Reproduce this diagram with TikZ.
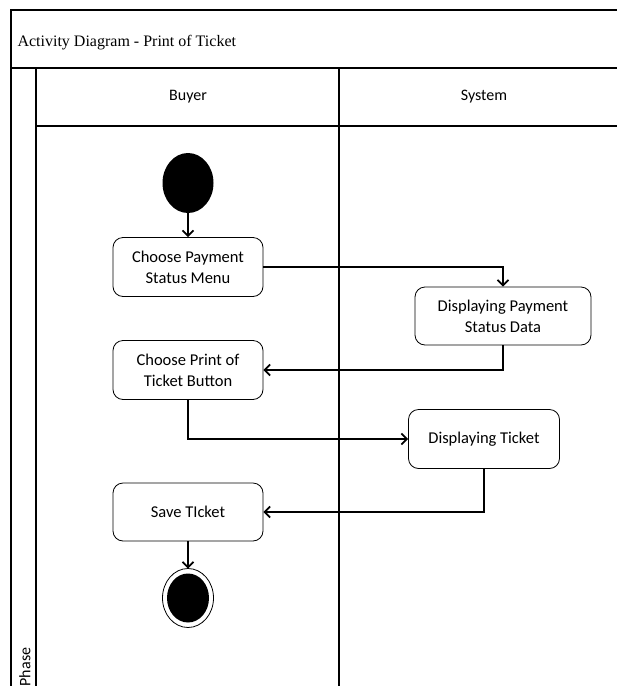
\documentclass[tikz,border=0pt]{standalone}
\usepackage{fontspec}
\setmainfont{Carlito}
\newfontfamily\titlefont{Liberation Serif}
\usetikzlibrary{arrows.meta}
\usetikzlibrary{shapes.geometric}

\begin{document}
\begin{tikzpicture}[x=1pt,y=-1pt,>={Straight Barb[length=5.5pt,width=11pt]},
  act/.style={rectangle,rounded corners=10pt,draw,line width=0.8pt,minimum width=150pt,minimum height=59pt,align=center,font=\fontsize{16.5}{21}\selectfont},
  flow/.style={->,line width=1.7pt},
  lane/.style={line width=1.2pt}]
\useasboundingbox (0,0) rectangle (617,686);

% frame and lanes
\draw[lane] (617,10) -- (11,10) -- (11,686);
\draw[lane] (11,68) -- (617,68);
\draw[lane] (36,68) -- (36,686);
\draw[lane] (36,126) -- (617,126);
\draw[lane] (339,68) -- (339,686);

\node[anchor=west,font=\titlefont\fontsize{16}{19}\selectfont](title) at (14,43) {Activity Diagram - Print of Ticket};
\node[font=\fontsize{16}{19}\selectfont](buyer) at (188,97) {Buyer};
\node[font=\fontsize{16}{19}\selectfont](system) at (484,97) {System};
\node[rotate=90,font=\fontsize{16}{19}\selectfont](phase) at (25,667) {Phase};

% activities
\node[ellipse,fill,minimum width=51pt,minimum height=60pt,inner sep=0pt,outer sep=0pt](start) at (188,183) {};
\node[act](menu) at (188,267) {Choose Payment\\Status Menu};
\node[act,minimum width=176pt,minimum height=58pt](data) at (503,316) {Displaying Payment\\Status Data};
\node[act](print) at (188,370) {Choose Print of\\Ticket Button};
\node[act,minimum width=151pt](ticket) at (484,439) {Displaying Ticket};
\node[act,minimum height=58pt](save) at (188,512) {Save TIcket};
\node[ellipse,draw,line width=0.8pt,minimum width=51pt,minimum height=59pt,inner sep=0pt,outer sep=0pt](stop) at (188,598) {};
\node[ellipse,fill,minimum width=42pt,minimum height=49pt,inner sep=0pt](stopdot) at (stop) {};

\draw[flow] (start) -- (menu);
\draw[flow] (menu.east) -| (data.north);
\draw[flow] (data.south) |- (print.east);
\draw[flow] (print.south) |- (ticket.west);
\draw[flow] (ticket.south) |- (save.east);
\draw[flow] (save) -- (stop);
\end{tikzpicture}
\end{document}
